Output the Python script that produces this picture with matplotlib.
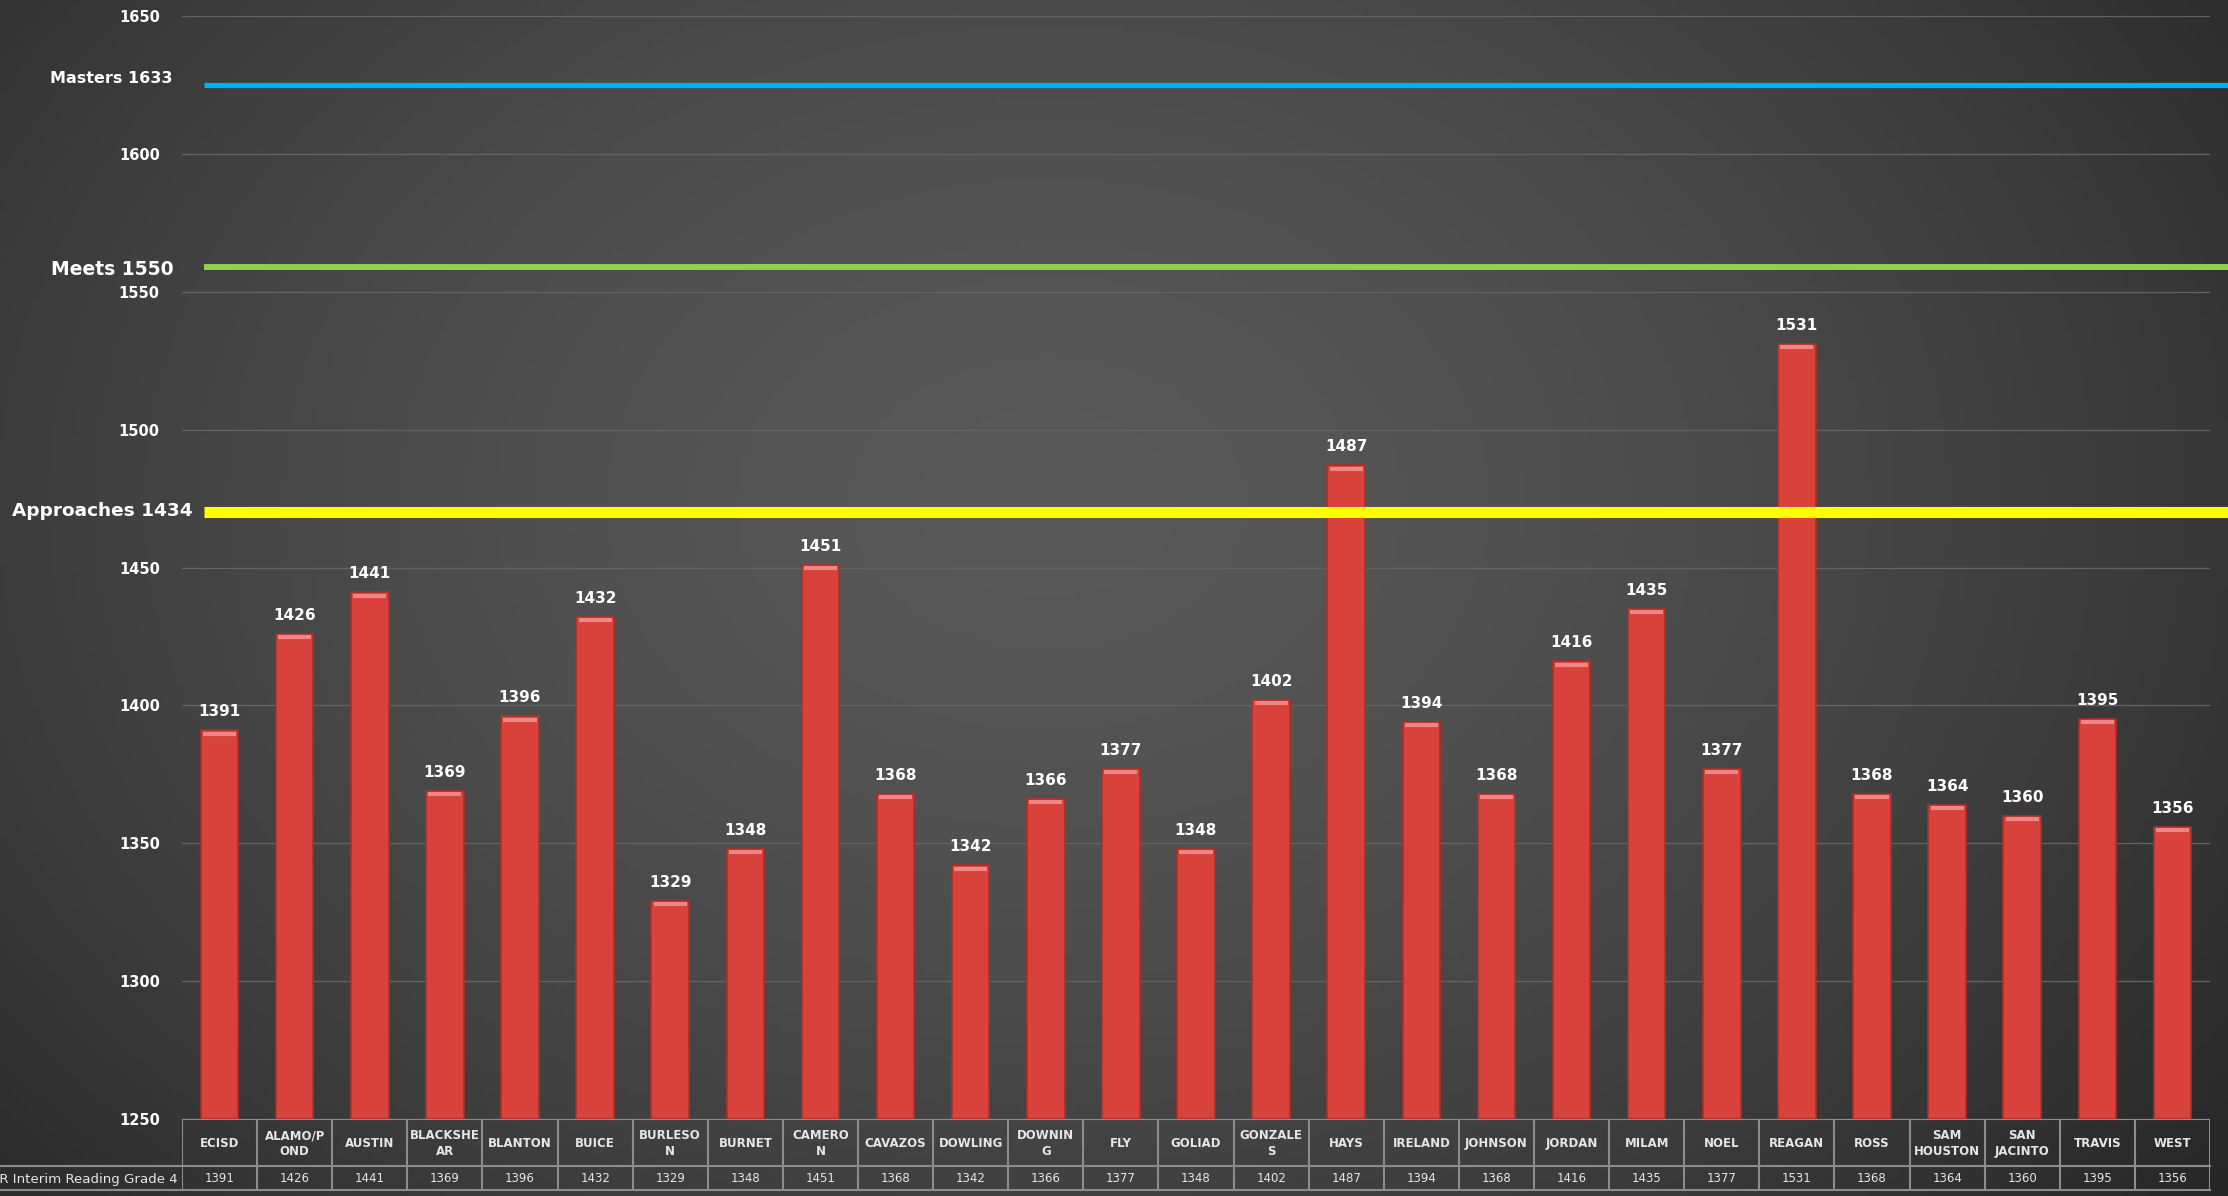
import numpy as np
import matplotlib.pyplot as plt
from matplotlib.lines import Line2D
from matplotlib.transforms import blended_transform_factory

# campus scores, STAAR interim reading grade 4
campuses = ["ECISD", "ALAMO/P\nOND", "AUSTIN", "BLACKSHE\nAR", "BLANTON", "BUICE",
            "BURLESO\nN", "BURNET", "CAMERO\nN", "CAVAZOS", "DOWLING", "DOWNIN\nG",
            "FLY", "GOLIAD", "GONZALE\nS", "HAYS", "IRELAND", "JOHNSON", "JORDAN",
            "MILAM", "NOEL", "REAGAN", "ROSS", "SAM\nHOUSTON", "SAN\nJACINTO",
            "TRAVIS", "WEST"]
scores = [1391, 1426, 1441, 1369, 1396, 1432, 1329, 1348, 1451, 1368, 1342, 1366,
          1377, 1348, 1402, 1487, 1394, 1368, 1416, 1435, 1377, 1531, 1368, 1364,
          1360, 1395, 1356]
row_label = "STAAR Interim Reading Grade 4"

# hand drawn threshold lines (label value, where the line sits in the picture)
level_names = ["Masters", "Meets", "Approaches"]
level_values = [1633, 1550, 1434]
level_drawn = [1625, 1559, 1470]
level_colors = ["#00b0f0", "#92d050", "#ffff00"]
level_widths = [3.8, 4.3, 8.0]
level_fsize = [11.5, 13.5, 13.3]
level_label_dy = [2.5, -1.0, 0.5]
level_label_x = [172, 174, 193]

yticks = list(range(1250, 1651, 50))

W, H = 2228, 1196
def fx(x):
    return x / W
def fy(y):
    return 1 - y / H

plt.rcParams['font.family'] = ['DejaVu Sans']
fig = plt.figure(figsize=(W / 100, H / 100), dpi=100)

# dark radial background
bg = fig.add_axes([0, 0, 1, 1], zorder=0)
gx, gy = np.meshgrid(np.linspace(0, 1, 400), np.linspace(0, 1, 220))
d = np.sqrt(((gx - 0.47) / 0.62) ** 2 + ((gy - 0.42) / 0.85) ** 2)
shade = np.clip(0.345 - 0.17 * d ** 1.6, 0.15, 1)
bg.imshow(np.dstack([shade] * 3), extent=[0, 1, 0, 1], aspect='auto', origin='upper')
bg.set_xlim(0, 1)
bg.set_ylim(0, 1)
bg.axis('off')

ax_l, ax_r, ax_t, ax_b = 182, 2210, 16, 1119
ax = fig.add_axes([fx(ax_l), fy(ax_b), fx(ax_r - ax_l), (ax_b - ax_t) / H], zorder=2)
ax.set_facecolor('none')
x = np.arange(len(scores))
ax.set_xlim(-0.5, len(scores) - 0.5)
ax.set_ylim(1250, 1650)
ax.set_yticks(yticks)
ax.set_xticks([])
ax.grid(axis='y', color='#626262', lw=1)
ax.set_axisbelow(True)
for s in ax.spines.values():
    s.set_visible(False)
ax.tick_params(axis='y', length=0, pad=16, labelcolor='white', labelsize=10.5)
for t in ax.get_yticklabels():
    t.set_fontweight('bold')

ax.bar(x, np.array(scores) - 1250, bottom=1250, width=0.5, color='#d8423b',
       edgecolor='#a93029', lw=1.2, zorder=3)
ax.hlines(np.array(scores) - 1.2, x - 0.22, x + 0.22, color='#f08583', lw=3, zorder=4)
for xi, v in zip(x, scores):
    ax.text(xi, v + 4, str(v), ha='center', va='bottom', color='white',
            fontsize=11, fontweight='bold', zorder=5)

# threshold lines run from left of axes to the figure edge
tr = blended_transform_factory(fig.transFigure, ax.transData)
for name, val, yv, c, lw, fs, dy, lx in zip(level_names, level_values, level_drawn,
                                           level_colors, level_widths, level_fsize,
                                           level_label_dy, level_label_x):
    ax.add_line(Line2D([fx(204), 1.0], [yv, yv], transform=tr, color=c, lw=lw,
                       clip_on=False, zorder=6, solid_capstyle='butt'))
    ax.text(fx(lx), yv + dy, f"{name} {val}", transform=tr, ha='right', va='center',
            color='white', fontsize=fs, fontweight='bold', clip_on=False)

# data table under the chart
t_top, t_mid, t_bot = 1119, 1166, 1190
tx = fig.add_axes([fx(ax_l), fy(t_bot), fx(ax_r - ax_l), (t_bot - t_top) / H], zorder=2)
tx.set_facecolor('none')
tx.set_xlim(-0.5, len(scores) - 0.5)
tx.set_ylim(t_bot, t_top)
tx.axis('off')
lc = '#8c8c8c'
tx.vlines(np.arange(len(scores) + 1) - 0.5, t_top, t_bot, color=lc, lw=1.5)
tx.hlines(t_top, -0.5, len(scores) - 0.5, color=lc, lw=1.5)
for yy in (t_mid, t_bot):
    fig.add_artist(Line2D([0, fx(ax_r)], [fy(yy), fy(yy)], color=lc, lw=1.5, zorder=3))
narrow = ['Liberation Sans Narrow', 'DejaVu Sans']
for xi, name, v in zip(x, campuses, scores):
    tx.text(xi, (t_top + t_mid) / 2 + 1, name, ha='center', va='center',
            color='#e6e6e6', fontsize=8.5, family=narrow, fontweight='bold',
            linespacing=1.25)
    tx.text(xi, (t_mid + t_bot) / 2 + 1, str(v), ha='center', va='center',
            color='#e6e6e6', fontsize=8.5, family=narrow)
fig.text(fx(178), fy((t_mid + t_bot) / 2 + 1), row_label, ha='right', va='center',
         color='#e6e6e6', fontsize=9.6, family=narrow)

fig.savefig("out.png", dpi=100)
